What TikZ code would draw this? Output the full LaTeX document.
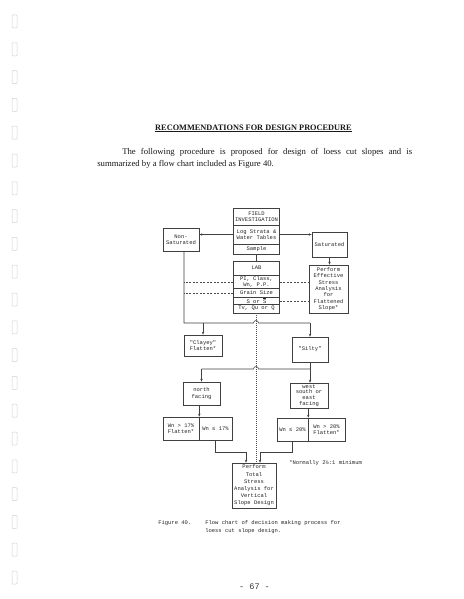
\documentclass[tikz,border=0pt]{standalone}
\usepackage{fontspec}
\setmainfont{Liberation Serif}
\newfontfamily\tw{Liberation Mono}
\usetikzlibrary{arrows.meta}
\begin{document}
\begin{tikzpicture}[x=1pt,y=-1pt,
  line width=0.55pt,
  box/.style={draw=black!75, inner sep=0pt, align=center, text=black!85,
    font=\tw\fontsize{5.5}{6.4}\selectfont},
  arr/.style={-{Stealth[length=3pt,width=2.4pt]}, draw=black!75},
  ln/.style={draw=black!75},
  dsh/.style={draw=black!70, dash pattern=on 2pt off 1.5pt, line width=0.45pt},
  dotl/.style={draw=black!70, dash pattern=on 1pt off 1pt, line width=0.5pt},
  tt/.style={inner sep=0pt, text=black!85, font=\tw\fontsize{5.5}{6.4}\selectfont}]
\useasboundingbox (0,0) rectangle (463,599);
\fill[white] (0,0) rectangle (463,599);

% binder holes
\foreach \i in {0,...,20}
  \draw[gray!35, line width=0.5pt, rounded corners=0.8pt] (12,{15+27.8*\i}) rectangle (17,{28+27.8*\i});

% heading and text
\node[inner sep=0pt, anchor=base, font=\bfseries\fontsize{8.3}{10}\selectfont, text=black!90] (title) at (253.5,130)
  {\underline{RECOMMENDATIONS FOR DESIGN PROCEDURE}};
\node[inner sep=0pt, anchor=base west, font=\fontsize{8.7}{11}\selectfont, text=black!90] (l1) at (122,154.5)
  {\makebox[290pt][s]{The following procedure is proposed for design of loess cut slopes and is}};
\node[inner sep=0pt, anchor=base west, font=\fontsize{8.7}{11}\selectfont, text=black!90] (l2) at (97,166)
  {summarized by a flow chart included as Figure 40.};

% flow chart boxes
\node[box, minimum width=46pt, minimum height=17pt] (fi) at (256.5,216.5) {FIELD\\INVESTIGATION};
\node[box, minimum width=46pt, minimum height=19pt] (log) at (256.5,234.5) {Log Strata \&\\Water Tables};
\node[box, minimum width=46pt, minimum height=10pt] (sample) at (256.5,249) {Sample};
\node[box, minimum width=36pt, minimum height=23pt] (nonsat) at (181,239.5) {Non-\\Saturated};
\node[box, minimum width=35pt, minimum height=25pt] (sat) at (329.5,244.5) {Saturated};
\node[box, minimum width=46pt, minimum height=14pt] (lab) at (256.5,268) {LAB};
\node[box, minimum width=46pt, minimum height=13.5pt] (pi) at (256.5,281.75) {PI, Class,\\Wn, P.P.};
\node[box, minimum width=46pt, minimum height=9pt] (grain) at (256.5,293) {Grain Size};
\node[box, minimum width=46pt, minimum height=6.5pt] (psi) at (256.5,300.75) {S or $\overline{\mbox{S}}$};
\node[box, minimum width=46pt, minimum height=9pt] (tv) at (256.5,308.5) {Tv, Qu or Q};
\node[box, minimum width=39pt, minimum height=48pt] (perf) at (328.5,289)
  {Perform\\Effective\\Stress\\Analysis\\for\\Flattened\\Slope*};
\node[box, minimum width=38pt, minimum height=21pt] (clayey) at (203,345.5) {"Clayey"\\Flatten*};
\node[box, minimum width=36pt, minimum height=25pt] (silty) at (310,349.5) {"Silty"};
\node[box, minimum width=37pt, minimum height=23pt] (north) at (201.5,393.5) {north\\facing};
\node[box, minimum width=38pt, minimum height=25pt, font=\tw\fontsize{5.5}{5.6}\selectfont] (west) at (309,395.5)
  {west\\south or\\east\\facing};
\node[box, minimum width=36pt, minimum height=23pt] (nleft) at (181,428.5) {Wn > 17\%\\Flatten*};
\node[box, minimum width=33pt, minimum height=23pt] (nright) at (215.5,428.5) {Wn ≤ 17\%};
\node[box, minimum width=31pt, minimum height=23pt] (wleft) at (292.5,429.5) {Wn ≤ 20\%};
\node[box, minimum width=37pt, minimum height=23pt] (wright) at (326.5,429.5) {Wn > 20\%\\Flatten*};
\node[box, minimum width=44pt, minimum height=45pt, font=\tw\fontsize{5.5}{7.2}\selectfont] (total) at (254,485.5)
  {Perform\\Total\\Stress\\Analysis for\\Vertical\\Slope Design};
\node[tt, anchor=west] (note) at (289,463) {*Normally 2½:1 minimum};

% connectors
\coordinate (j1) at (184,323);
\coordinate (j2) at (310,369);
\coordinate (j3) at (0,452);
\draw[arr] (log.west) -- (log.west -| nonsat.east);
\draw[arr] (log.east) -- (log.east -| sat.west);
\draw[ln] (sample.south) -- (lab.north);
\draw[arr] (sat.south) -- (sat.south |- perf.north);
\draw[ln] (nonsat.south -| j1) -- (j1) -- (253.5,323) arc[start angle=180, end angle=0, radius=2.5pt] -- (silty.north |- j1);
\draw[arr] (clayey.north |- j1) -- (clayey.north);
\draw[arr] (silty.north |- j1) -- (silty.north);
\draw[arr] (silty.south) -- (silty.south |- west.north);
\draw[ln] (north.north |- j2) -- (253.5,369) arc[start angle=180, end angle=0, radius=2.5pt] -- (j2);
\draw[arr] (north.north |- j2) -- (north.north);
\draw[arr] (nleft.north east |- north.south) -- (nleft.north east);
\draw[arr] (wleft.north east |- west.south) -- (wleft.north east);
\draw[arr] (nright.south) -- (nright.south |- j3) -- ([xshift=-8pt]total.north |- j3) -- ([xshift=-8pt]total.north);
\draw[arr] (wleft.south) -- (wleft.south |- j3) -- ([xshift=6pt]total.north |- j3) -- ([xshift=6pt]total.north);
\draw[dotl] (tv.south) -- (tv.south |- total.north);
\draw[dsh] (pi.west) -- (pi.west -| j1);
\draw[dsh] (grain.west) -- (grain.west -| j1);
\draw[dsh] (pi.east) -- (pi.east -| perf.west);
\draw[dsh] (psi.east) -- (psi.east -| perf.west);

% caption and page number
\node[tt, anchor=base west] (figno) at (158,524) {Figure 40.};
\node[tt, anchor=base west] (cap1) at (205,524) {Flow chart of decision making process for};
\node[tt, anchor=base west] (cap2) at (205,532) {loess cut slope design.};
\node[inner sep=0pt, anchor=base, font=\tw\fontsize{8.5}{10}\selectfont, text=black!80] (page) at (254.5,589) {- 67 -};
\end{tikzpicture}
\end{document}
